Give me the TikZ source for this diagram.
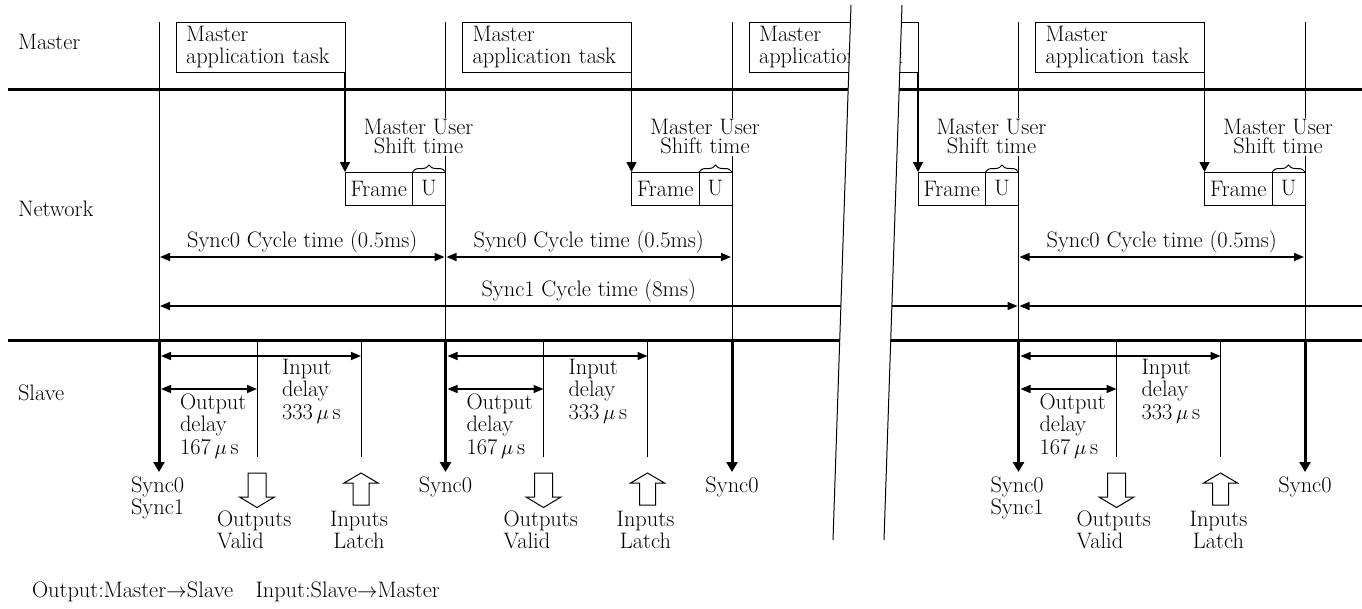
\documentclass[tikz,border=0pt]{standalone}
\usetikzlibrary{arrows.meta,decorations.pathreplacing}
\begin{document}
\begin{tikzpicture}[x=1pt,y=-1pt,
  every node/.style={font=\fontsize{22.4}{22.5}\selectfont, inner sep=0pt, outer sep=0pt},
  vline/.style={line width=1pt},
  hline/.style={line width=3pt},
  mbox/.style={draw, line width=1pt, fill=white, minimum width=169pt, minimum height=50pt,
    text width=149pt, inner xsep=10pt, align=left, anchor=north west},
  fbox/.style={draw, line width=1pt, fill=white, minimum height=33pt, anchor=north west},
  farrow/.style={line width=1.5pt, -{Triangle[length=10pt,width=10pt]}},
  carrow/.style={line width=1.5pt, {Triangle[length=10pt,width=8pt]}-{Triangle[length=10pt,width=8pt]}},
  larrow/.style={line width=1.5pt, -{Triangle[length=10pt,width=8pt]}},
  syncarrow/.style={line width=3pt, -{Triangle[length=10pt,width=11pt]}},
  bracedeco/.style={line width=1pt, decorate, decoration={brace, amplitude=7pt}},
  mulabel/.style={fill=white, align=center, inner xsep=1pt, inner ysep=2pt,
    font=\fontsize{22.4}{19}\selectfont},
  hollow/.style={line width=1pt, fill=white}
]
\useasboundingbox (0,0) rectangle (1362,608);

% row labels
\node[anchor=west] (lmaster) at (18,42) {Master};
\node[anchor=west] (lnetwork) at (18,209) {Network};
\node[anchor=west] (lslave) at (18,393) {Slave};

% thin sync lines
\foreach \k/\b in {0/159,1/445.5,2/732,3/1018.5,4/1305} {
  \coordinate (top\k) at (\b,22);
  \coordinate (mid\k) at (\b,340);
  \coordinate (bot\k) at (\b,472);
  \draw[vline] (top\k) -- (mid\k);
}

% thick horizontal separators
\coordinate (h1a) at (8,89);  \coordinate (h1b) at (1362,89);
\coordinate (h2a) at (8,340); \coordinate (h2b) at (1362,340);
\draw[hline] (h1a) -- (h1b);
\draw[hline] (h2a) -- (h2b);

% master tasks, frames, user shift time
\foreach \k/\b/\n in {0/159/445.5,1/445.5/732,2/732/1018.5,3/1018.5/1305} {
  \node[mbox] (m\k) at (\b+17,22) {Master\\application task};
  \node[fbox, minimum width=67.5pt] (f\k) at (\b+186,172) {Frame};
  \node[fbox, minimum width=33pt] (u\k) at (f\k.north east) {U};
  \draw[farrow] (m\k.south east) -- (f\k.north west);
  \draw[bracedeco] (u\k.north west) -- (u\k.north east);
  \node[mulabel] (mu\k) at (\n-27,137) {Master User\\Shift time};
}

% Sync0 cycle time arrows
\foreach \k/\b/\n in {0/159/445.5,1/445.5/732,3/1018.5/1305} {
  \coordinate (ca\k) at (\b+1,257);
  \coordinate (cb\k) at (\n-1,257);
  \draw[carrow] (ca\k) -- node[pos=0.5, yshift=15pt] (ct\k) {Sync0 Cycle time (0.5ms)} (cb\k);
}

% Sync1 cycle time arrows
\coordinate (sa) at (160,306);
\coordinate (sb) at (1017.5,306);
\coordinate (sc) at (1019.5,306);
\coordinate (sd) at (1362,306);
\draw[carrow] (sa) -- node[pos=0.5, yshift=15pt] (st) {Sync1 Cycle time (8ms)} (sb);
\draw[larrow] (sd) -- (sc);

% slave sync arrows
\foreach \k in {0,1,2,3,4} {
  \draw[syncarrow] (mid\k) -- (bot\k);
}
\node[align=left, anchor=west] (sy0) at (131,498) {Sync0\\Sync1};
\node[align=left, anchor=west] (sy3) at (990.5,498) {Sync0\\Sync1};
\node (sy1) at (445.5,487) {Sync0};
\node (sy2) at (732,487) {Sync0};
\node (sy4) at (1305,487) {Sync0};

% slave delays
\foreach \k/\b in {0/159,1/445.5,3/1018.5} {
  \coordinate (ov\k) at (\b+98,340);
  \coordinate (ovb\k) at (\b+98,457);
  \coordinate (iv\k) at (\b+202,340);
  \coordinate (ivb\k) at (\b+202,457);
  \draw[vline] (ov\k) -- (ovb\k);
  \draw[vline] (iv\k) -- (ivb\k);
  \coordinate (ia\k) at (\b+2,356);
  \coordinate (ib\k) at (\b+202,356);
  \coordinate (oa\k) at (\b+2,389);
  \coordinate (ob\k) at (\b+98,389);
  \draw[carrow] (ia\k) -- (ib\k);
  \draw[carrow] (oa\k) -- (ob\k);
  \node[align=left, anchor=west] (ol\k) at (\b+21,426) {Output\\delay\\167\,$\mu$\,s};
  \node[align=left, anchor=west] (il\k) at (\b+123,391) {Input\\delay\\333\,$\mu$\,s};
  % hollow arrows
  \draw[hollow] (\b+89,473) -- (\b+107,473) -- (\b+107,497) -- (\b+115.5,497)
     -- (\b+98,507.5) -- (\b+80.5,497) -- (\b+89,497) -- cycle;
  \draw[hollow] (\b+194,505) -- (\b+210,505) -- (\b+210,483) -- (\b+219,483)
     -- (\b+202,473) -- (\b+185,483) -- (\b+194,483) -- cycle;
  \node[align=left, anchor=west] (vl\k) at (\b+58,530) {Outputs\\Valid};
  \node[align=center] (ll\k) at (\b+200,530) {Inputs\\Latch};
}

% break gap
\fill[white] (851,5) -- (902,5) -- (884,540) -- (833,540) -- cycle;
\draw[vline] (851,5) -- (833,540);
\draw[vline] (902,5) -- (884,540);

% footnote
\node[anchor=west] (foot) at (32,592) {Output:Master$\rightarrow$Slave\quad Input:Slave$\rightarrow$Master};
\end{tikzpicture}
\end{document}
